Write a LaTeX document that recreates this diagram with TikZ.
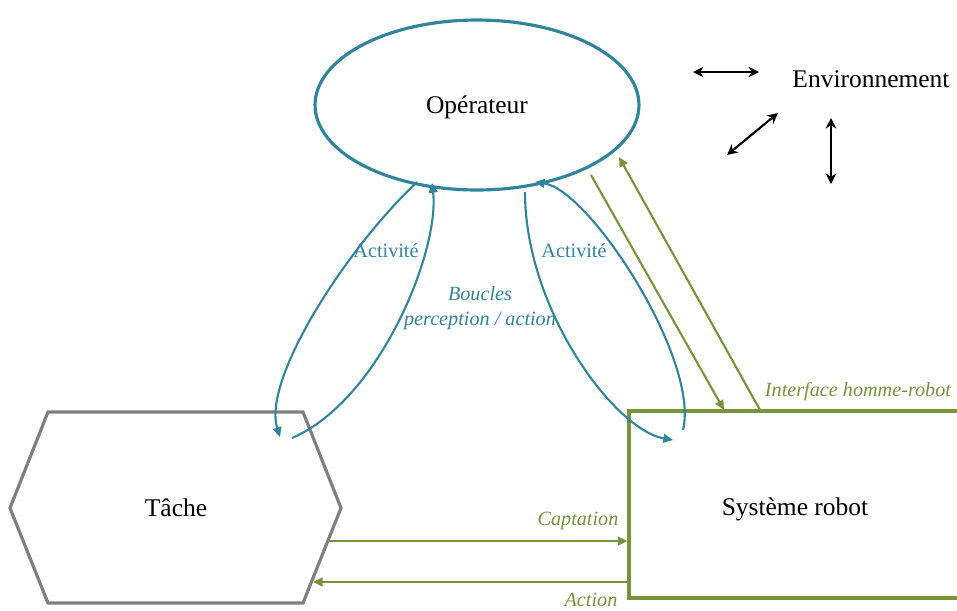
\documentclass[tikz,border=0pt]{standalone}
\usepackage{fontspec}
\setmainfont{Liberation Serif}
\usetikzlibrary{arrows.meta,shapes.geometric}
\definecolor{opteal}{HTML}{31849B}
\definecolor{robgreen}{HTML}{77933C}
\definecolor{tachegray}{HTML}{7F7F7F}
\tikzset{
  big/.style={font=\fontsize{14.5}{17}\selectfont},
  small/.style={font=\fontsize{11.5}{14}\selectfont},
  smallit/.style={font=\fontsize{11.5}{14}\selectfont\itshape},
  loop/.style={opteal,line width=1.2pt,-{Triangle[length=5.5pt,width=5pt]}},
  link/.style={robgreen,line width=1.2pt,-{Triangle[length=5.5pt,width=5pt]}},
  env/.style={black,line width=1.2pt,{Stealth[length=6pt,width=6pt]}-{Stealth[length=6pt,width=6pt]}},
}
\begin{document}
\begin{tikzpicture}[x=0.02cm,y=-0.02cm]
\clip (0,0) rectangle (957,610);
\node[ellipse,draw=opteal,line width=1.8pt,minimum width=6.48cm,minimum height=3.4cm,
  label={[big,yshift=-0.04cm]center:Opérateur}] (op) at (477,105) {};
\draw[tachegray,line width=1.8pt] (48,412) -- (303,412) -- (341,508) -- (303,603) -- (48,603) -- (10,508) -- cycle;
\node[big] (tache) at (176,508) {Tâche};
\node[draw=robgreen,line width=1.8pt,minimum width=6.64cm,minimum height=3.74cm,
  label={[big,yshift=-0.1cm]center:Système robot}] (robot) at (795,504.5) {};
\node[big] (envir) at (871,79) {Environnement};

% ends of the connectors
\coordinate (tacheC) at (329,541);
\coordinate (tacheA) at (313,582);
\coordinate (opD) at (591,175);
\coordinate (robD) at (724,410);
\coordinate (robU) at (760,410);
\coordinate (opU) at (619,157);
\coordinate (opL1) at (417,182);
\coordinate (tacheL1) at (280,437);
\coordinate (tacheL2) at (292,438);
\coordinate (opL2) at (432,183);
\coordinate (opR1) at (525,192);
\coordinate (robR1) at (673,440);
\coordinate (robR2) at (683,430);
\coordinate (opR2) at (535,182);

% captation / action
\draw[link] (tacheC) -- (tacheC -| robot.west);
\draw[link] (robot.west |- tacheA) -- (tacheA);
\node[smallit,robgreen] (captL) at (578,521) {Captation};
\node[smallit,robgreen] (actL) at (591,600) {Action};

% interface
\draw[link] (opD) -- (robD);
\draw[link] (robU) -- (opU);
\node[smallit,robgreen] (ifL) at (858,392) {Interface homme-robot};

% boucles perception / action
\draw[loop] (opL1) .. controls (345,250) and (262,380) .. (tacheL1);
\draw[loop] (tacheL2) .. controls (380,400) and (440,250) .. (opL2);
\draw[loop] (opR1) .. controls (525,310) and (615,430) .. (robR1);
\draw[loop] (robR2) .. controls (700,360) and (590,190) .. (opR2);
\node[small,opteal] (actG) at (386,251) {Activité};
\node[small,opteal] (actD) at (574,251) {Activité};
\node[smallit,opteal,align=center] (boucL) at (480,308) {Boucles\\perception / action};

% environnement
\coordinate (envH1) at (693,72);
\coordinate (envH2) at (759,72);
\coordinate (envD1) at (727,155);
\coordinate (envD2) at (778,113);
\coordinate (envV1) at (831,118);
\coordinate (envV2) at (831,184);
\draw[env] (envH1) -- (envH2);
\draw[env] (envD1) -- (envD2);
\draw[env] (envV1) -- (envV2);
\end{tikzpicture}
\end{document}
